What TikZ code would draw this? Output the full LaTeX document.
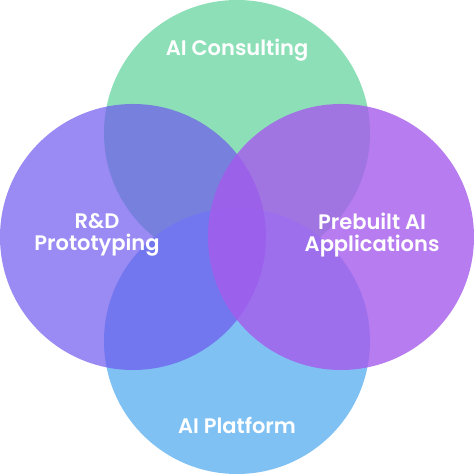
\documentclass[tikz,border=0pt]{standalone}
\usepackage{fontspec}
\setmainfont{Poppins}[BoldFont={* SemiBold}]
\usetikzlibrary{calc}

\definecolor{consult}{RGB}{141,223,184}
\definecolor{platform}{RGB}{127,193,243}
\definecolor{rnd}{RGB}{111,88,238}
\definecolor{prebuilt}{RGB}{165,91,236}

\tikzset{
  label text/.style={text=white, font=\bfseries\fontsize{12.6}{13.4}\selectfont, align=center}
}

\begin{document}
\begin{tikzpicture}[scale=1.0]
  \useasboundingbox (-5,-5) rectangle (5,5);
  \coordinate (T) at (0, 2.194);
  \coordinate (B) at (0, -2.194);
  \coordinate (L) at (-2.194, 0);
  \coordinate (R) at (2.194, 0);

  % 四个圆
  \fill[consult] (T) circle (2.806);
  \fill[platform] (B) circle (2.806);
  \fill[rnd, opacity=0.7] (L) circle (2.806);
  \fill[prebuilt, opacity=0.8] (R) circle (2.806);

  \node[label text] (consulting) at (0, 3.945) {AI Consulting};
  \node[label text] (proto) at (-2.954, 0.04) {R\&D\\Prototyping};
  \node[label text] (apps) at (2.85, 0.04) {Prebuilt AI\\Applications};
  \node[label text] (aiplat) at (0, -3.97) {AI Platform};
\end{tikzpicture}
\end{document}
